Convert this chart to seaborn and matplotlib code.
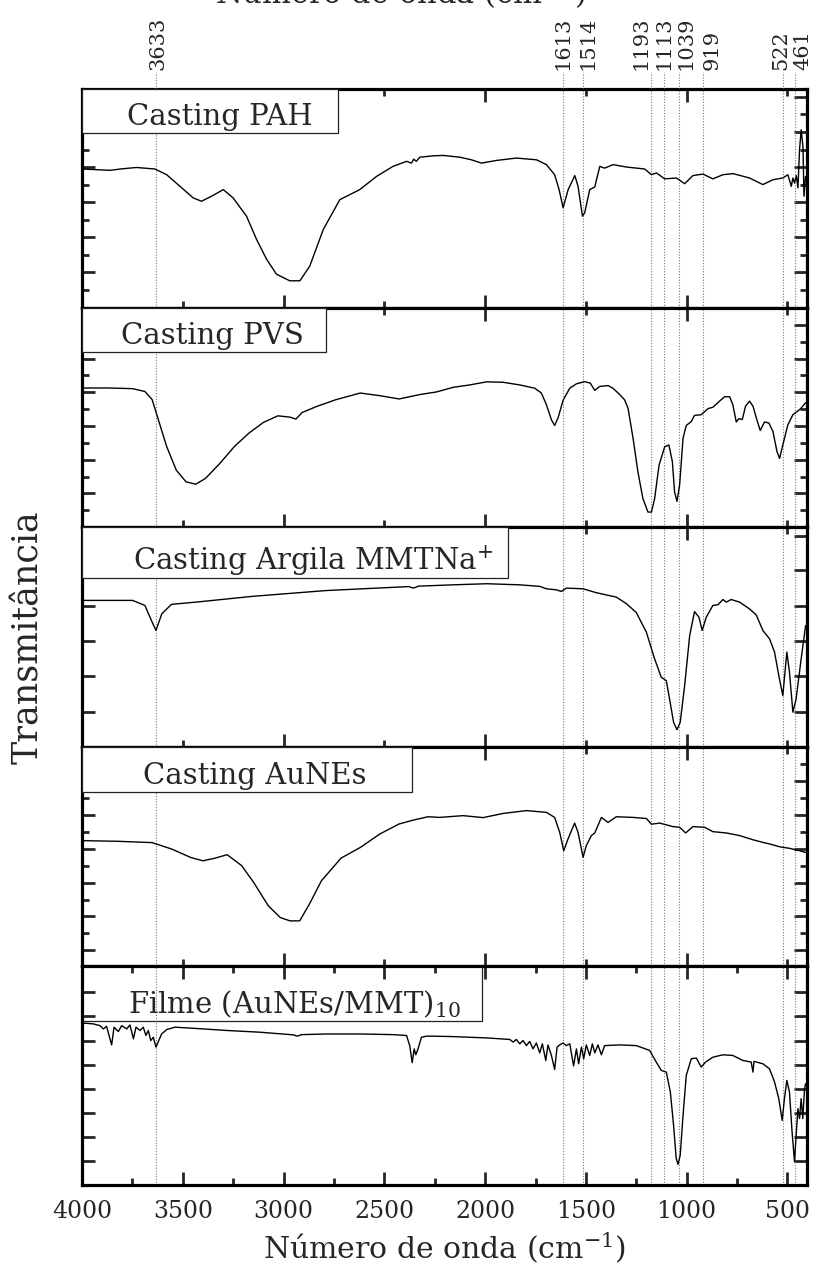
import numpy as np
import pandas as pd
import seaborn as sns
import matplotlib
matplotlib.use("Agg")
import matplotlib.pyplot as plt
from matplotlib.patches import Rectangle
from matplotlib.ticker import MultipleLocator, FixedLocator, NullLocator
from matplotlib.transforms import offset_copy, blended_transform_factory

# ---------------- data (wavenumber cm-1, transmittance in % of panel height) ----
wn_pah = [3997, 3930, 3861, 3800, 3729, 3638, 3580, 3514, 3448, 3407, 3357, 3299, 3250, 3184,
          3134, 3084, 3035, 2969, 2919, 2870, 2803, 2721, 2622, 2539, 2457, 2390, 2365, 2354,
          2341, 2324, 2258, 2209, 2126, 2068, 2018, 1944, 1845, 1745, 1696, 1655, 1633, 1613,
          1588, 1555, 1539, 1517, 1506, 1481, 1456, 1431, 1407, 1365, 1299, 1208, 1175, 1150,
          1109, 1051, 1010, 969, 919, 870, 820, 770, 688, 622, 572, 523, 498, 481, 473, 465,
          456, 448, 440, 432, 423, 418, 410]
val_pah = [63.5, 63.2, 62.9, 63.6, 64.2, 63.5, 60.9, 55.6, 50.3, 48.8, 51.1, 54.1, 50.3, 42.0,
           31.4, 22.3, 15.5, 12.5, 12.5, 19.2, 35.9, 49.5, 54.1, 60.1, 64.7, 67.0, 66.2, 68.0,
           67.0, 68.9, 69.5, 69.7, 68.9, 67.7, 66.2, 67.4, 68.5, 67.7, 65.5, 60.9, 54.1, 45.8,
           54.1, 60.5, 55.6, 42.0, 43.5, 54.1, 55.3, 64.7, 63.9, 65.5, 64.4, 63.5, 60.9, 61.7,
           59.0, 59.4, 56.8, 60.5, 61.2, 59.0, 60.9, 61.4, 59.4, 56.4, 58.6, 59.4, 60.9, 55.6,
           59.4, 57.1, 60.5, 54.9, 72.3, 81.4, 73.7, 51.1, 60.1]

wn_pvs = [4000, 3869, 3749, 3688, 3652, 3616, 3580, 3532, 3484, 3436, 3388, 3316, 3244, 3172,
          3100, 3028, 2968, 2939, 2908, 2835, 2739, 2619, 2523, 2427, 2324, 2241, 2159, 2076,
          1993, 1911, 1828, 1754, 1721, 1696, 1671, 1655, 1638, 1613, 1580, 1547, 1506, 1478,
          1456, 1432, 1390, 1366, 1332, 1308, 1291, 1266, 1242, 1217, 1192, 1175, 1159, 1137,
          1109, 1088, 1071, 1060, 1048, 1035, 1018, 1002, 977, 961, 928, 894, 870, 837, 812,
          787, 771, 754, 741, 724, 708, 688, 671, 652, 635, 614, 592, 572, 552, 539, 523, 498,
          473, 440, 424, 410]
val_pvs = [63.6, 63.6, 63.3, 62.0, 58.3, 47.6, 36.9, 26.1, 20.8, 19.7, 22.3, 29.2, 36.9, 43.0,
           47.9, 50.9, 50.3, 49.4, 52.4, 55.2, 58.3, 61.3, 60.1, 58.6, 60.6, 61.8, 63.9, 65.0,
           66.4, 66.2, 65.0, 63.5, 61.3, 56.0, 49.1, 46.5, 50.0, 58.0, 63.5, 65.5, 66.5, 65.8,
           62.5, 64.3, 64.7, 63.5, 60.6, 58.2, 54.4, 40.7, 25.4, 13.1, 7.0, 7.0, 13.1, 28.4,
           36.8, 37.6, 30.0, 16.2, 11.9, 19.3, 40.7, 46.5, 48.3, 51.1, 51.4, 54.2, 54.8, 57.6,
           59.6, 59.6, 56.0, 48.1, 49.6, 49.2, 55.3, 57.6, 55.3, 49.2, 44.2, 48.1, 47.6, 43.8,
           34.6, 31.5, 37.6, 46.8, 51.4, 53.7, 55.3, 56.9]

wn_mmt = [3989, 3749, 3688, 3652, 3633, 3604, 3556, 3436, 3148, 2787, 2379, 2355, 2331, 2159,
          1993, 1828, 1729, 1696, 1646, 1622, 1597, 1514, 1448, 1349, 1299, 1250, 1200, 1159,
          1126, 1101, 1085, 1065, 1048, 1032, 1010, 985, 961, 939, 923, 903, 870, 845, 820,
          804, 779, 737, 688, 655, 622, 589, 564, 543, 523, 503, 490, 473, 457, 432, 410]
val_mmt = [66.7, 66.7, 64.4, 56.8, 53.0, 60.6, 64.9, 65.9, 68.6, 71.2, 73.0, 72.3, 73.2, 73.8,
           74.3, 73.8, 73.1, 72.0, 71.5, 70.8, 72.3, 72.0, 70.2, 68.2, 65.2, 61.2, 52.2, 40.0,
           31.6, 30.1, 21.8, 11.1, 7.7, 11.1, 27.9, 50.7, 61.6, 59.0, 53.0, 59.0, 64.4, 64.7,
           67.1, 65.9, 67.1, 65.9, 62.8, 60.1, 53.0, 49.2, 43.1, 32.4, 23.3, 43.1, 34.0, 15.7,
           21.8, 40.0, 55.2]

wn_au = [4000, 3821, 3652, 3556, 3460, 3400, 3340, 3280, 3208, 3148, 3076, 3016, 2968, 2920,
         2872, 2812, 2715, 2619, 2523, 2427, 2355, 2283, 2225, 2109, 2010, 1911, 1795, 1696,
         1655, 1630, 1610, 1589, 1556, 1539, 1514, 1498, 1473, 1456, 1423, 1390, 1349, 1266,
         1200, 1175, 1134, 1068, 1035, 1005, 969, 911, 870, 804, 737, 671, 622, 589, 539, 490,
         440, 410]
val_au = [57.1, 56.8, 56.2, 53.3, 49.4, 47.9, 49.1, 50.7, 45.7, 38.0, 27.4, 22.0, 20.5, 20.5,
          28.1, 38.8, 49.1, 54.0, 60.1, 64.7, 66.5, 68.0, 67.7, 68.5, 67.6, 69.5, 70.8, 70.0,
          67.7, 60.9, 52.5, 57.8, 65.1, 60.9, 49.5, 54.8, 59.4, 60.6, 67.7, 65.4, 68.0, 67.7,
          67.2, 64.6, 65.1, 63.5, 63.2, 60.6, 63.5, 63.2, 61.2, 60.6, 59.4, 57.5, 56.3, 55.6,
          54.3, 53.6, 52.5, 51.7]

wn_film = [3997, 3944, 3911, 3894, 3878, 3853, 3841, 3820, 3803, 3778, 3762, 3745, 3732, 3712,
           3696, 3683, 3671, 3659, 3646, 3633, 3621, 3605, 3580, 3539, 3448, 3283, 3117, 2952,
           2932, 2911, 2787, 2622, 2456, 2390, 2374, 2362, 2352, 2344, 2333, 2316, 2291, 2258,
           2159, 1993, 1878, 1861, 1845, 1828, 1812, 1795, 1779, 1762, 1746, 1729, 1716, 1699,
           1688, 1671, 1655, 1643, 1630, 1613, 1597, 1580, 1561, 1547, 1536, 1522, 1511, 1498,
           1481, 1468, 1456, 1440, 1423, 1407, 1332, 1250, 1184, 1151, 1126, 1101, 1081, 1065,
           1052, 1043, 1032, 1018, 1002, 977, 952, 928, 906, 870, 820, 771, 721, 680, 671, 666,
           622, 589, 564, 543, 526, 515, 503, 490, 477, 465, 457, 448, 440, 432, 424, 415, 410]
val_film = [73.9, 73.5, 72.7, 71.2, 72.4, 63.9, 72.0, 70.0, 72.7, 71.2, 73.0, 66.7, 72.0, 70.5,
            72.0, 68.2, 70.5, 65.9, 67.4, 62.9, 65.5, 68.9, 70.9, 72.0, 71.5, 70.5, 69.7, 68.5,
            67.9, 68.6, 68.9, 68.9, 68.6, 68.2, 63.6, 55.8, 62.1, 59.4, 62.1, 67.4, 67.9, 67.9,
            67.7, 67.1, 66.4, 65.2, 66.4, 64.4, 65.9, 63.6, 65.5, 62.1, 64.8, 60.3, 64.4, 56.8,
            63.9, 59.1, 52.7, 62.9, 63.9, 64.8, 63.6, 64.4, 54.3, 62.1, 55.3, 62.9, 57.6, 63.9,
            59.1, 64.4, 60.3, 63.9, 59.4, 63.6, 63.9, 63.6, 61.4, 56.1, 52.3, 51.5, 42.4, 27.3,
            12.1, 9.4, 13.6, 31.8, 50.0, 57.6, 57.9, 53.8, 56.1, 58.3, 59.4, 59.1, 56.8, 56.1,
            51.5, 56.4, 55.3, 53.0, 47.0, 39.4, 29.5, 39.4, 47.7, 42.4, 24.2, 10.6, 22.7, 34.8,
            30.3, 39.4, 30.3, 43.9, 46.2]

panel_names = ["Casting PAH", "Casting PVS", "Casting Argila MMTNa$^{+}$",
               "Casting AuNEs", "Filme (AuNEs/MMT)$_{10}$"]
series_wn = [wn_pah, wn_pvs, wn_mmt, wn_au, wn_film]
series_val = [val_pah, val_pvs, val_mmt, val_au, val_film]

peak_pos = [3633, 1613, 1514, 1175, 1113, 1039, 919, 522, 461]
peak_labels = ["3633", "1613", "1514", "1193", "1113", "1039", "919", "522", "461"]

x_ticks_major = [4000, 3500, 3000, 2500, 2000, 1500, 1000, 500]

# ---------------- style ----------------
sns.set_style("ticks")
plt.rcParams["font.family"] = ["DejaVu Serif"]
plt.rcParams["mathtext.fontset"] = "dejavuserif"

W, H = 821, 1268
fig = plt.figure(figsize=(W / 100, H / 100), dpi=100)

left_px, right_px = 82, 807
top_px, bottom_px = 89, 1185
n = 5
ph = (bottom_px - top_px) / n
xlim = (4000, 403)

# y tick layouts per panel (major, minor)
yticks = [
    ([16.3, 32.3, 48.3, 64.3, 80.4, 96.4], [8.4, 24.3, 40.3, 56.3, 72.3, 88.4]),
    ([15.5, 30.8, 46.2, 61.6, 77.0, 92.4], [7.8, 23.1, 38.5, 53.9, 69.3, 84.7]),
    ([15.9, 32.1, 48.3, 64.3, 80.4, 96.3], []),
    ([7.2, 22.5, 38.0, 53.4, 68.8, 84.3], [14.8, 30.2, 45.7, 61.1, 76.5, 92.0]),
    ([10.9, 21.9, 32.9, 43.9, 54.9, 65.9, 76.9, 87.9], []),
]
# label box geometry in pixels: width, height; text centre shift
boxes = [(256, 44), (244, 44), (426, 51), (330, 45), (400, 55)]
text_shift = [10, 8, 18, 8, 12]

axes = []
for i in range(n):
    t = top_px + i * ph
    ax = fig.add_axes([left_px / W, 1 - (t + ph) / H, (right_px - left_px) / W, ph / H])
    axes.append(ax)
    df = pd.DataFrame({"wn": series_wn[i], "T": series_val[i]})
    for p in peak_pos:
        ax.axvline(p, color="#777777", ls=(0, (1, 1.5)), lw=0.8, zorder=1)
    sns.lineplot(data=df, x="wn", y="T", ax=ax, color="black", linewidth=1.0,
                 estimator=None, sort=False, legend=False, zorder=2)
    ax.set_xlim(*xlim)
    ax.set_ylim(0, 100)
    ax.set_xlabel("")
    ax.set_ylabel("")
    if i < 4:
        ax.xaxis.set_major_locator(MultipleLocator(1000))
        ax.xaxis.set_minor_locator(MultipleLocator(500))
        ax.tick_params(axis="x", labelbottom=False)
    else:
        ax.xaxis.set_major_locator(FixedLocator(x_ticks_major))
        ax.xaxis.set_minor_locator(MultipleLocator(250))
        ax.set_xticklabels([str(v) for v in x_ticks_major])
    maj, mnr = yticks[i]
    ax.yaxis.set_major_locator(FixedLocator(maj))
    if mnr:
        ax.yaxis.set_minor_locator(FixedLocator(mnr))
    else:
        ax.yaxis.set_minor_locator(NullLocator())
    ax.tick_params(axis="y", labelleft=False)
    ax.tick_params(which="both", direction="in", top=True, right=True, width=2.0)
    ax.tick_params(which="major", length=9.5)
    ax.tick_params(which="minor", length=5.0)
    ax.tick_params(axis="x", which="major", labelsize=17, pad=11)
    for s in ax.spines.values():
        s.set_linewidth(2.3)
        s.set_color("black")
    # label box
    bw, bh = boxes[i]
    wf = bw / (right_px - left_px)
    hf = bh / ph
    zb = 0.5 if i == 4 else 4
    ax.add_patch(Rectangle((0, 1 - hf), wf, hf, transform=ax.transAxes, facecolor="white",
                           edgecolor="#222222", lw=0.9, zorder=zb, clip_on=False))
    ax.text(wf / 2 + text_shift[i] / (right_px - left_px), 1 - hf + 8 / ph, panel_names[i],
            transform=ax.transAxes, ha="center", va="baseline", fontsize=21, zorder=5)

# top peak-label strip
tax = fig.add_axes([left_px / W, 1 - top_px / H, (right_px - left_px) / W, 17 / H])
tax.set_facecolor("none")
tax.set_xlim(*xlim)
tax.set_ylim(0, 1)
tax.axis("off")
for p in peak_pos:
    tax.axvline(p, color="#777777", ls=(0, (1, 1.5)), lw=0.8)
# label nudges (pixels) so neighbouring rotated labels do not collide
label_dx = [2, 0, 5, -10, 0, 7, 9, -2, 8]
base_tr = blended_transform_factory(tax.transData, tax.transAxes)
for p, lab, dx in zip(peak_pos, peak_labels, label_dx):
    tr = offset_copy(base_tr, fig=fig, x=dx, y=2, units="dots")
    tax.text(p, 1.0, lab, transform=tr, rotation=90, ha="center", va="bottom",
             fontsize=15, clip_on=False)

# axis titles
fig.text(28 / W, 1 - 637 / H, "Transmitância", rotation=90, ha="center", va="center",
         fontsize=25)
fig.text((left_px + right_px) / 2 / W, 1 - 1258 / H, "Número de onda (cm$^{-1}$)",
         ha="center", va="baseline", fontsize=21.5)
fig.text(400 / W, 1 - 4 / H, "Número de onda (cm$^{-1}$)", ha="center", va="baseline",
         fontsize=22)

fig.savefig("out.png", dpi=100)
